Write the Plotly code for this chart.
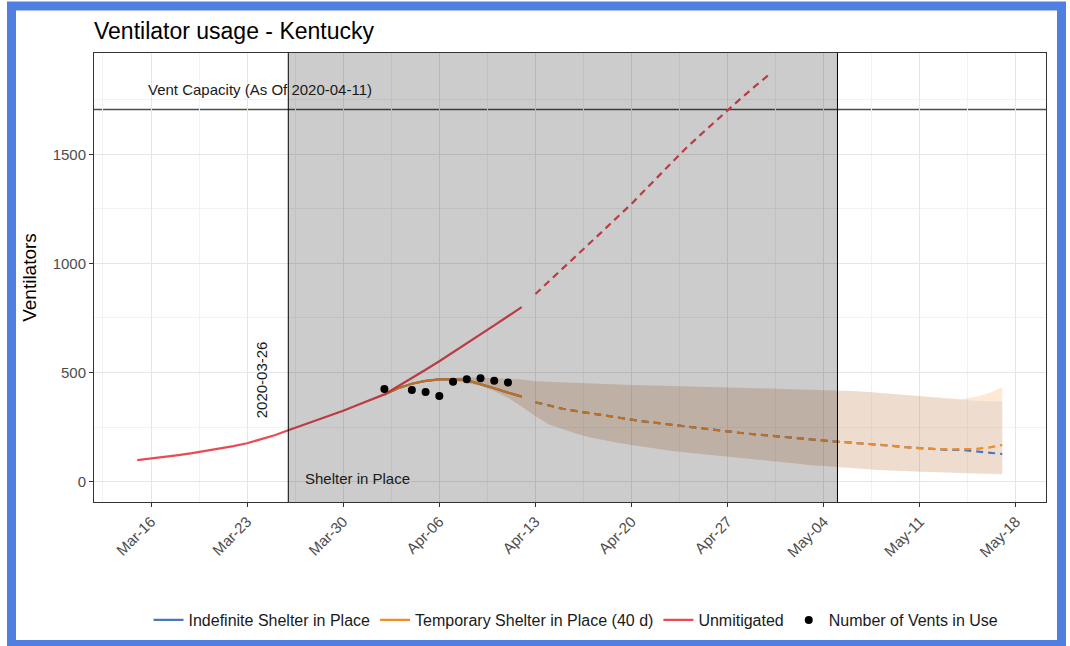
import pandas as pd
import plotly.graph_objects as go

# ---------------- data ----------------
unmit_start = "2020-03-15"
unmit_solid = [99, 106, 114, 122, 131, 141, 152, 163, 176, 193, 213, 236, 258, 280, 302,
               325, 350, 375, 400, 437, 474, 513, 552, 592, 633, 674, 716, 758, 800]
unmit_proj_start = "2020-04-13"
unmit_proj = [860, 918, 976, 1035, 1094, 1154, 1214, 1273, 1338, 1403, 1468, 1530, 1588,
              1646, 1703, 1758, 1812, 1864]

fit_start = "2020-04-02"
temp_solid = [400, 428, 449, 462, 469, 470, 465, 448, 428, 408, 390]
indef_solid = [400, 428, 449, 462, 469, 470, 465, 448, 428, 408, 390]

proj_start = "2020-04-13"
temp_proj = [364, 349, 334, 323, 313, 302, 292, 283, 275, 268, 260, 252, 245, 237, 229, 223,
             217, 211, 205, 199, 194, 188, 183, 179, 175, 170, 164, 158, 153, 150, 148, 148,
             150, 156, 168]
indef_proj = [364, 349, 334, 323, 313, 302, 292, 283, 275, 268, 260, 252, 245, 237, 229, 223,
              217, 211, 205, 199, 194, 188, 183, 179, 175, 170, 164, 158, 153, 150, 146, 146,
              140, 133, 127]

# confidence bands, daily from 2020-04-02
band_start = "2020-04-02"
temp_hi = [400, 429, 450, 464, 472, 476, 478, 477, 475, 472, 468,
           460, 457, 454, 451, 449, 447, 445, 443, 441, 440, 438, 436, 434, 433, 431, 430,
           428, 427, 425, 424, 422, 421, 420, 416, 412, 407, 402, 396, 390, 385, 380, 378,
           388, 405, 433]
temp_lo = [400, 427, 448, 460, 466, 462, 452, 440, 415, 385, 345,
           300, 262, 240, 220, 203, 190, 178, 168, 158, 149, 141, 134, 127, 121, 115, 108,
           102, 95, 89, 83, 77, 71, 66, 62, 58, 54, 51, 48, 46, 44, 42, 40, 38, 37, 36]
indef_hi = [400, 429, 450, 464, 472, 476, 478, 477, 475, 472, 468,
            460, 457, 454, 451, 449, 447, 445, 443, 441, 440, 438, 436, 434, 433, 431, 430,
            428, 427, 425, 424, 422, 421, 420, 416, 412, 407, 402, 396, 390, 385, 380, 376,
            371, 369, 367]
indef_lo = [400, 427, 448, 460, 466, 462, 452, 440, 415, 385, 345,
            300, 262, 240, 220, 203, 190, 178, 168, 158, 149, 141, 134, 127, 121, 115, 108,
            102, 95, 89, 83, 77, 71, 66, 62, 58, 54, 51, 48, 46, 44, 42, 39, 36, 34, 32]

vent_dates = ["2020-04-02", "2020-04-04", "2020-04-05", "2020-04-06", "2020-04-07",
              "2020-04-08", "2020-04-09", "2020-04-10", "2020-04-11"]
vent_values = [425, 420, 411, 393, 458, 469, 474, 463, 454]

vent_capacity = 1705
shelter_start = "2020-03-26"
shelter_end = "2020-05-05"

# ---------------- helpers ----------------
def days(start, n):
    return list(pd.date_range(start, periods=n, freq="D"))

BLUE = "#4a76c0"
ORANGE = "#ee8c2a"
RED = "#e94b55"
BAND_O = "rgba(255,127,14,0.18)"
BAND_B = "rgba(60,120,190,0.10)"
FONT = "Liberation Sans, Arial, sans-serif"

fig = go.Figure()

d_fit = days(fit_start, len(temp_solid))
d_proj = days(proj_start, len(temp_proj))
d_band = days(band_start, len(temp_hi))

# ribbons (blue first, then orange)
for hi, lo, col in [(indef_hi, indef_lo, BAND_B), (temp_hi, temp_lo, BAND_O)]:
    fig.add_trace(go.Scatter(x=d_band + d_band[::-1], y=hi + lo[::-1], fill="toself",
                             fillcolor=col, line=dict(width=0), mode="lines",
                             showlegend=False, hoverinfo="skip"))

DASH = "7px,5px"
# Indefinite (blue)
fig.add_trace(go.Scatter(x=d_fit, y=indef_solid, mode="lines", name="Indefinite Shelter in Place",
                         line=dict(color=BLUE, width=2.2), legendgroup="b"))
fig.add_trace(go.Scatter(x=d_proj, y=indef_proj, mode="lines", showlegend=False,
                         line=dict(color=BLUE, width=2.2, dash=DASH), legendgroup="b"))
# Temporary (orange)
fig.add_trace(go.Scatter(x=d_fit, y=temp_solid, mode="lines",
                         name="Temporary Shelter in Place (40 d)",
                         line=dict(color=ORANGE, width=2.2), legendgroup="o"))
fig.add_trace(go.Scatter(x=d_proj, y=temp_proj, mode="lines", showlegend=False,
                         line=dict(color=ORANGE, width=2.2, dash=DASH), legendgroup="o"))
# Unmitigated (red)
fig.add_trace(go.Scatter(x=days(unmit_start, len(unmit_solid)), y=unmit_solid, mode="lines",
                         name="Unmitigated", line=dict(color=RED, width=2.2), legendgroup="r"))
fig.add_trace(go.Scatter(x=days(unmit_proj_start, len(unmit_proj)), y=unmit_proj, mode="lines",
                         showlegend=False, line=dict(color=RED, width=2.2, dash=DASH),
                         legendgroup="r"))
# points
fig.add_trace(go.Scatter(x=pd.to_datetime(vent_dates), y=vent_values, mode="markers",
                         name="Number of Vents in Use",
                         marker=dict(color="black", size=8)))

# ---------------- geometry ----------------
L, R, T, B = 94, 24, 53, 144
W, H = 1070, 646
PW, PH = W - L - R, H - T - B

def px_x(p):
    return (p - L) / PW

def px_y(p):
    return (H - B - p) / PH

shapes = [
    # shelter shade (drawn over everything, like the original)
    dict(type="rect", xref="x", yref="paper", x0=shelter_start, x1=shelter_end, y0=0, y1=1,
         fillcolor="rgba(0,0,0,0.2)", line=dict(width=0), layer="above"),
    dict(type="line", xref="x", yref="paper", x0=shelter_start, x1=shelter_start, y0=0, y1=1,
         line=dict(color="black", width=1), layer="above"),
    dict(type="line", xref="x", yref="paper", x0=shelter_end, x1=shelter_end, y0=0, y1=1,
         line=dict(color="black", width=1), layer="above"),
    dict(type="line", xref="paper", yref="y", x0=0, x1=1, y0=vent_capacity, y1=vent_capacity,
         line=dict(color="#4d4d4d", width=1.5), layer="between"),
    # blue frame around the whole picture
    dict(type="rect", xref="paper", yref="paper", x0=px_x(11.5), x1=px_x(1061.5),
         y0=px_y(644.5), y1=px_y(6), line=dict(color="#4f7fe0", width=9),
         fillcolor="rgba(0,0,0,0)", layer="above"),
]

annotations = [
    dict(text="Vent Capacity (As Of 2020-04-11)", x="2020-03-15 15:00", y=1797, xref="x",
         yref="y", xanchor="left", yanchor="middle", showarrow=False,
         font=dict(size=15, color="#1a1a1a", family=FONT)),
    dict(text="2020-03-26", x=shelter_start, y=466, xref="x", yref="y", xanchor="center",
         yanchor="middle", xshift=-26, textangle=-90, showarrow=False,
         font=dict(size=15, color="#1a1a1a", family=FONT)),
    dict(text="Shelter in Place", x="2020-03-27 02:00", y=16, xref="x", yref="y",
         xanchor="left", yanchor="middle", showarrow=False,
         font=dict(size=15, color="#1a1a1a", family=FONT)),
]

fig.update_layout(
    width=W, height=H,
    margin=dict(l=L, r=R, t=T, b=B),
    paper_bgcolor="white", plot_bgcolor="white",
    font=dict(family=FONT, color="#1a1a1a"),
    title=dict(text="Ventilator usage - Kentucky", xref="paper", x=0, xanchor="left",
               yref="container", y=1 - 31 / H, yanchor="middle",
               font=dict(size=23, color="black", family=FONT)),
    shapes=shapes, annotations=annotations,
    legend=dict(orientation="h", x=px_x(576), xanchor="center",
                yref="container", y=1 - 620 / H, yanchor="middle",
                font=dict(size=16, color="#1a1a1a", family=FONT),
                bgcolor="rgba(0,0,0,0)", itemwidth=30),
    showlegend=True,
)

fig.update_xaxes(
    type="date", range=["2020-03-11 20:22", "2020-05-20 04:30"],
    tick0="2020-03-16", dtick=7 * 86400000, tickformat="%b-%d", tickangle=-45,
    tickfont=dict(size=15, color="#4d4d4d", family=FONT),
    ticks="outside", ticklen=4, tickcolor="#333333",
    showgrid=True, gridcolor="#e6e6e6", gridwidth=1,
    minor=dict(tick0="2020-03-12 12:00", dtick=7 * 86400000, showgrid=True,
               gridcolor="#f2f2f2", gridwidth=0.7, ticks=""),
    showline=True, linecolor="#333333", linewidth=1, mirror=True, zeroline=False,
)
fig.update_yaxes(
    range=[-93, 1964], tickvals=[0, 500, 1000, 1500],
    tickfont=dict(size=15, color="#4d4d4d", family=FONT),
    ticks="outside", ticklen=4, tickcolor="#333333",
    showgrid=True, gridcolor="#e6e6e6", gridwidth=1,
    minor=dict(tickvals=[250, 750, 1250, 1750], showgrid=True, gridcolor="#f2f2f2",
               gridwidth=0.7, ticks=""),
    showline=True, linecolor="#333333", linewidth=1, mirror=True, zeroline=False,
    title=dict(text="Ventilators", standoff=10, font=dict(size=19, color="black", family=FONT)),
)

fig.write_html("out.html")
